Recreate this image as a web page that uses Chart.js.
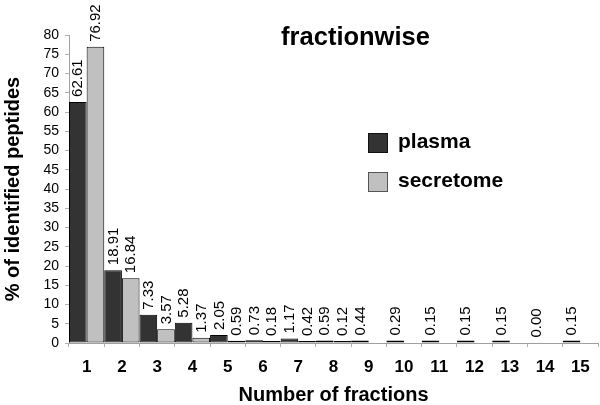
<!DOCTYPE html>
<html>
<head>
<meta charset="utf-8">
<script src="https://cdn.jsdelivr.net/npm/chart.js@4"></script>
<style>
  html, body { margin: 0; padding: 0; background: #fff; }
  #wrap { width: 600px; height: 405px; position: relative; }
</style>
</head>
<body>
<div id="wrap"><canvas id="c" width="600" height="405"></canvas></div>
<script>
const categories = ['1','2','3','4','5','6','7','8','9','10','11','12','13','14','15'];
const plasma = [62.61, 18.91, 7.33, 5.28, 2.05, 0.73, 1.17, 0.59, 0.44, 0.29, 0.15, 0.15, 0.15, 0.00, 0.15];
const secretome = [76.92, 16.84, 3.57, 1.37, 0.59, 0.18, 0.42, 0.12, null, null, null, null, null, null, null];
const seriesNames = ['plasma', 'secretome'];
const seriesColors = ['#333333', '#c0c0c0'];
const legendBorders = ['#111111', '#555555'];
const chartTitle = 'fractionwise';
const xTitle = 'Number of fractions';
const yTitle = '% of identified peptides';

const FONT = "Arial, 'Liberation Sans', Helvetica, sans-serif";

const valueLabels = {
  id: 'valueLabels',
  afterDatasetsDraw(chart) {
    const ctx = chart.ctx;
    ctx.save();
    ctx.fillStyle = '#000';
    ctx.font = '15px ' + FONT;
    ctx.textAlign = 'left';
    ctx.textBaseline = 'middle';
    chart.data.datasets.forEach((ds, di) => {
      const meta = chart.getDatasetMeta(di);
      meta.data.forEach((bar, i) => {
        const v = ds.data[i];
        if (v === null || v === undefined) return;
        const top = Math.min(bar.y, bar.base);
        ctx.save();
        ctx.translate(bar.x + 0.5, (v === 0 ? bar.base : top) - 5);
        ctx.rotate(-Math.PI / 2);
        ctx.fillText(v.toFixed(2), 0, 0);
        ctx.restore();
      });
    });
    ctx.restore();
  }
};

const overlay = {
  id: 'overlay',
  afterDraw(chart) {
    const ctx = chart.ctx;
    ctx.save();
    ctx.fillStyle = '#000';
    ctx.font = 'bold 25.5px ' + FONT;
    ctx.textAlign = 'center';
    ctx.textBaseline = 'alphabetic';
    ctx.fillText(chartTitle, 355.5, 45);
    // legend
    const ys = [133, 172];
    chart.data.datasets.forEach((ds, i) => {
      ctx.fillStyle = seriesColors[i];
      ctx.fillRect(368, ys[i], 20, 20);
      ctx.strokeStyle = legendBorders[i];
      ctx.lineWidth = 1;
      ctx.strokeRect(368.5, ys[i] + 0.5, 19, 19);
      ctx.fillStyle = '#000';
      ctx.font = 'bold 21px ' + FONT;
      ctx.textAlign = 'left';
      ctx.fillText(ds.label, 398, ys[i] + 14.5);
    });
    ctx.restore();
  }
};

const hideZero = (color) => (c) => (c.raw === 0 ? 'rgba(0,0,0,0)' : color);

new Chart(document.getElementById('c'), {
  type: 'bar',
  data: {
    labels: categories,
    datasets: [
      { label: seriesNames[0], data: plasma, backgroundColor: hideZero(seriesColors[0]), borderColor: hideZero('#000'), borderWidth: 1, borderSkipped: false, minBarLength: 2.5 },
      { label: seriesNames[1], data: secretome, backgroundColor: hideZero(seriesColors[1]), borderColor: hideZero('#000'), borderWidth: 1, borderSkipped: false, minBarLength: 2 }
    ]
  },
  options: {
    responsive: false,
    animation: false,
    devicePixelRatio: 1,
    datasets: { bar: { categoryPercentage: 1.0, barPercentage: 1.0, inflateAmount: 0 } },
    layout: { padding: { top: 35, right: 2, left: 0, bottom: 0 } },
    plugins: { legend: { display: false }, title: { display: false }, tooltip: { enabled: false } },
    scales: {
      x: {
        offset: true,
        grid: { display: true, drawOnChartArea: false, drawTicks: true, tickLength: 4, color: '#b0b0b0', offset: true },
        border: { display: true, color: '#a0a0a0', width: 1 },
        ticks: { color: '#000', font: { family: FONT, size: 17, weight: 'bold' }, padding: 10, maxRotation: 0, autoSkip: false },
        title: { display: true, text: xTitle, color: '#000', font: { family: FONT, size: 20, weight: 'bold', lineHeight: 1 }, padding: { top: 0, bottom: 0 } },
        afterFit: (s) => { s.height = 62; }
      },
      y: {
        min: 0, max: 80,
        grid: { display: true, drawOnChartArea: false, drawTicks: true, tickLength: 4, color: '#b0b0b0' },
        border: { display: true, color: '#a0a0a0', width: 1 },
        ticks: { stepSize: 5, autoSkip: false, color: '#000', font: { family: FONT, size: 14 }, padding: 6 },
        title: { display: true, text: yTitle, color: '#000', font: { family: FONT, size: 20, weight: 'bold', lineHeight: 1 }, padding: { top: 3, bottom: 0 } },
        afterFit: (s) => { s.width = 69; }
      }
    }
  },
  plugins: [valueLabels, overlay]
});
</script>
</body>
</html>
